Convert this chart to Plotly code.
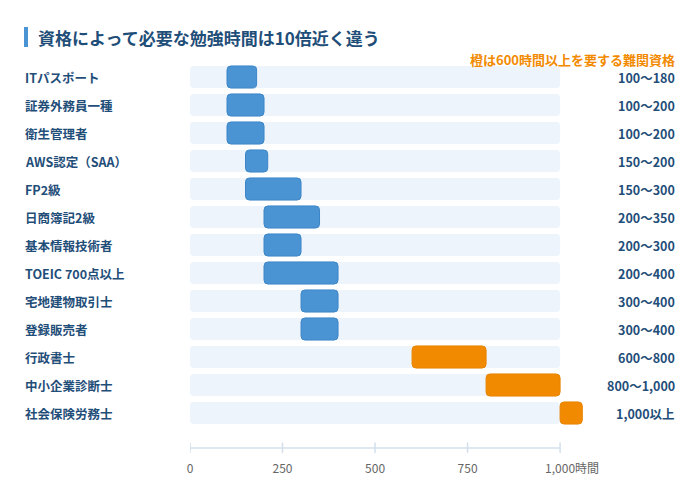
import plotly.graph_objects as go

categories = ["ITパスポート", "証券外務員一種", "衛生管理者", "AWS認定（SAA）", "FP2級",
              "日商簿記2級", "基本情報技術者", "TOEIC 700点以上", "宅地建物取引士",
              "登録販売者", "行政書士", "中小企業診断士", "社会保険労務士"]
low_hours = [100, 100, 100, 150, 150, 200, 200, 200, 300, 300, 600, 800, 1000]
high_hours = [180, 200, 200, 210, 300, 350, 300, 400, 400, 400, 800, 1000, 1060]
range_labels = ["100〜180", "100〜200", "100〜200", "150〜200", "150〜300", "200〜350",
                "200〜300", "200〜400", "300〜400", "300〜400", "600〜800", "800〜1,000", "1,000以上"]
tick_values = [0, 250, 500, 750, 1000]
tick_labels = ["0", "250", "500", "750", "1,000"]
hard_threshold = 600
track_max = 1000

FONT = "Noto Sans CJK JP, Noto Sans, sans-serif"
NAVY = "#1f4e79"
BLUE = "#4a94d4"
BLUE_EDGE = "#3c86c8"
ORANGE = "#f28a00"
ORANGE_EDGE = "#e88400"
TRACK = "#edf4fb"
AXIS = "#d3e0ec"

OFF = 8  # page body margin
W, H = 700 - OFF, 494 - OFF
PL, PR, PT, PB = 190, 586, 63, 427  # plot area in reference pixel coords
ML, MR, MT, MB = PL - OFF, W - (PR - OFF), PT - OFF, H - (PB - OFF)
PW, PH = W - ML - MR, H - MT - MB


def px(xp):
    return (xp - OFF - ML) / PW


def py(yp):
    return (H - MB - (yp - OFF)) / PH


colors = [ORANGE if lo >= hard_threshold else BLUE for lo in low_hours]
edges = [ORANGE_EDGE if lo >= hard_threshold else BLUE_EDGE for lo in low_hours]

fig = go.Figure()
fig.add_trace(go.Bar(
    y=categories, x=[track_max] * len(categories), base=[0] * len(categories),
    orientation="h", marker=dict(color=TRACK, cornerradius=4, line=dict(width=0)),
    width=0.79, hoverinfo="skip", showlegend=False,
))
fig.add_trace(go.Bar(
    y=categories, x=[h - l for l, h in zip(low_hours, high_hours)], base=low_hours,
    orientation="h", marker=dict(color=colors, cornerradius=4, line=dict(width=1, color=edges)),
    width=0.79, showlegend=False,
    customdata=range_labels, hovertemplate="%{y}: %{customdata}時間<extra></extra>",
))

annotations = []
for cat, lab in zip(categories, range_labels):
    annotations.append(dict(xref="paper", yref="y", x=px(23), y=cat, text=f"<b>{cat}</b>",
                            xanchor="left", yanchor="middle", showarrow=False,
                            font=dict(family=FONT, size=12.5, color=NAVY)))
    annotations.append(dict(xref="paper", yref="y", x=px(677), y=cat, text=f"<b>{lab}</b>",
                            xanchor="right", yanchor="middle", showarrow=False,
                            font=dict(family=FONT, size=12.5, color=NAVY)))

annotations.append(dict(xref="paper", yref="paper", x=px(36), y=py(37),
                        text="<b>資格によって必要な勉強時間は10倍近く違う</b>",
                        xanchor="left", yanchor="middle", showarrow=False,
                        font=dict(family=FONT, size=17, color=NAVY)))
annotations.append(dict(xref="paper", yref="paper", x=px(677), y=py(59),
                        text="<b>橙は600時間以上を要する難関資格</b>",
                        xanchor="right", yanchor="middle", showarrow=False,
                        font=dict(family=FONT, size=13, color=ORANGE)))
annotations.append(dict(xref="x", yref="paper", x=track_max, y=py(467), xshift=13,
                        text="時間", xanchor="left", yanchor="middle", showarrow=False,
                        font=dict(family=FONT, size=12, color="#666666")))

shapes = [
    dict(type="rect", xref="paper", yref="paper", x0=px(24), x1=px(28), y0=py(27), y1=py(47),
         fillcolor=BLUE, line=dict(width=0)),
    dict(type="line", xref="x", yref="paper", x0=0, x1=track_max, y0=py(448), y1=py(448),
         line=dict(color=AXIS, width=1.5)),
]
for tv in tick_values:
    shapes.append(dict(type="line", xref="x", yref="paper", x0=tv, x1=tv, y0=py(442.5), y1=py(453),
                       line=dict(color=AXIS, width=1.5)))

fig.update_layout(
    width=W, height=H,
    margin=dict(l=ML, r=MR, t=MT, b=MB),
    paper_bgcolor="white", plot_bgcolor="white",
    barmode="overlay",
    font=dict(family=FONT, color=NAVY),
    xaxis=dict(range=[0, 1070], tickvals=tick_values, ticktext=tick_labels,
               showgrid=False, zeroline=False, showline=False, ticks="",
               ticklabelstandoff=33, tickfont=dict(family=FONT, size=12, color="#666666"),
               fixedrange=True),
    yaxis=dict(categoryorder="array", categoryarray=categories, autorange="reversed",
               showticklabels=False, showgrid=False, zeroline=False, showline=False,
               fixedrange=True),
    annotations=annotations, shapes=shapes,
)

fig.write_html("out.html")
